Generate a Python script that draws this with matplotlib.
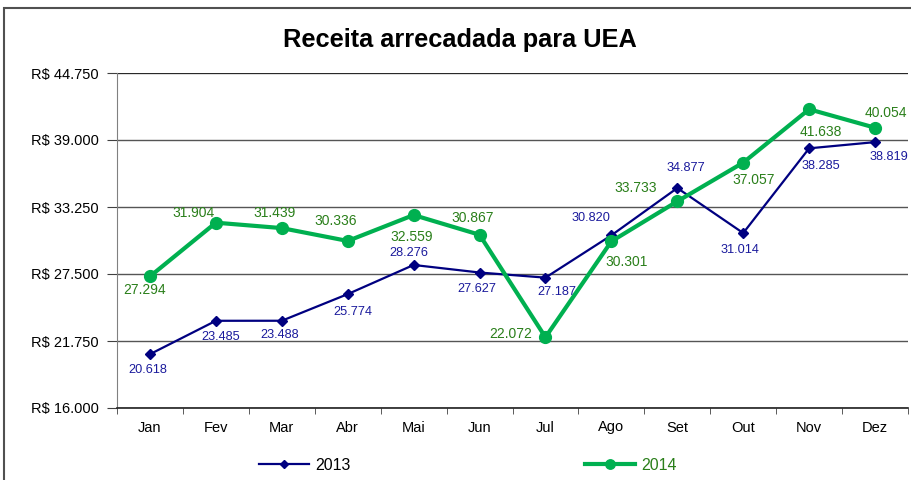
import matplotlib.pyplot as plt
from matplotlib.patches import Rectangle
from matplotlib.ticker import FuncFormatter
import numpy as np

plt.rcParams['font.family'] = ['Liberation Sans', 'DejaVu Sans']

# data
months = ["Jan", "Fev", "Mar", "Abr", "Mai", "Jun", "Jul", "Ago", "Set", "Out", "Nov", "Dez"]
rec_2013 = [20618, 23485, 23488, 25774, 28276, 27627, 27187, 30820, 34877, 31014, 38285, 38819]
rec_2014 = [27294, 31904, 31439, 30336, 32559, 30867, 22072, 30301, 33733, 37057, 41638, 40054]
yticks = [16000, 21750, 27500, 33250, 39000, 44750]

# label offsets in pixels (dx, dy), as placed in the original chart
off_2013 = [(-2, -16), (5, -16), (-2, -14), (5, -18), (-5, 12), (-3, -16),
            (11, -14), (-20, 17), (9, 20), (-3, -17), (12, -18), (14, -15)]
off_2014 = [(-5, -14), (-22, 10), (-7, 15), (-12, 20), (-2, -22), (-7, 17),
            (-35, 3), (15, -21), (-42, 13), (10, -17), (12, -23), (11, 15)]

blue = "#000080"
green = "#00B050"
blue_txt = "#1A1A9C"
green_txt = "#2A7F1A"

fig = plt.figure(figsize=(9.11, 4.8), dpi=100)
ax = fig.add_axes([117 / 911, 1 - 408 / 480, 791 / 911, 335 / 480])

x = np.arange(len(months))
l1, = ax.plot(x, rec_2013, color=blue, lw=1.6, marker="D", ms=5, zorder=3, label="2013")
l2, = ax.plot(x, rec_2014, color=green, lw=3, marker="o", ms=8.5, zorder=4, label="2014")

for i, v in enumerate(rec_2013):
    ax.annotate(f"{v / 1000:.3f}", (i, v), xytext=off_2013[i], textcoords="offset pixels",
                ha="center", va="center", fontsize=9.2, color=blue_txt, zorder=5)
for i, v in enumerate(rec_2014):
    ax.annotate(f"{v / 1000:.3f}", (i, v), xytext=off_2014[i], textcoords="offset pixels",
                ha="center", va="center", fontsize=10, color=green_txt, zorder=5)

ax.set_xlim(-0.5, 11.5)
ax.set_ylim(16000, 44750)
ax.set_yticks(yticks)
ax.yaxis.set_major_formatter(FuncFormatter(lambda v, p: "R$ " + f"{v / 1000:.3f}"))
ax.set_xticks(x)
ax.set_xticklabels(months)
ax.set_xticks(np.arange(-0.5, 12, 1), minor=True)
ax.tick_params(axis="x", which="major", length=0, pad=9, labelsize=10.5)
ax.tick_params(axis="x", which="minor", length=4, direction="out", color="#404040")
ax.tick_params(axis="y", length=7, color="#404040", labelsize=10.5, pad=6)

ax.grid(axis="y", color="#555555", lw=1)
ax.set_axisbelow(True)
for s in ["top", "right"]:
    ax.spines[s].set_visible(False)
ax.axhline(yticks[-1], color="#202020", lw=1.2, zorder=1)
ax.spines["left"].set_color("#808080")
ax.spines["bottom"].set_color("#202020")
ax.spines["bottom"].set_linewidth(1.2)

fig.text(460 / 911, 1 - 40 / 480, "Receita arrecadada para UEA", ha="center", va="center",
         fontsize=18.3, fontweight="bold")

leg = fig.legend(handles=[l1, l2], loc="center", bbox_to_anchor=(468 / 911, 1 - 465 / 480),
                 ncol=2, frameon=False, fontsize=11.5, handlelength=3.1, columnspacing=14.7,
                 handletextpad=0.4, markerscale=0.8, labelcolor=["black", green_txt])

# outer chart border
fig.patches.append(Rectangle((4 / 911, -0.1), 1.2, 1 - 8 / 480 + 0.1, transform=fig.transFigure,
                             fill=False, edgecolor="#505050", lw=1.5))

fig.savefig("out.png", dpi=100)
